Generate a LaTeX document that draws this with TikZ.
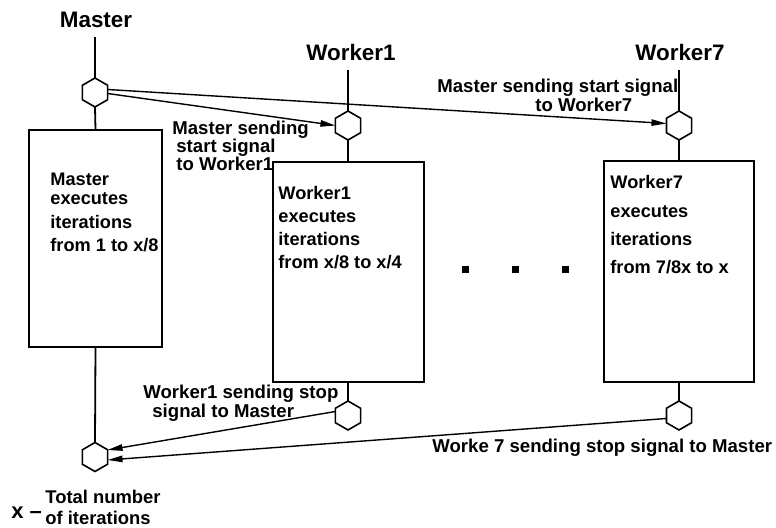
\documentclass[tikz,border=0pt]{standalone}
\usepackage{fontspec}
\setmainfont{Liberation Sans}
\usetikzlibrary{shapes.geometric,arrows.meta}

\tikzset{
  hexa/.style={draw, line width=0.8pt, regular polygon, regular polygon sides=6,
    shape border rotate=30, minimum size=14.5pt, inner sep=0pt, outer sep=0pt},
  runbox/.style={draw, line width=1pt, rectangle, inner sep=0pt, outer sep=0pt},
  title/.style={font=\fontsize{11.2}{13}\selectfont\bfseries, anchor=base, inner sep=0pt},
  lbl/.style={font=\fontsize{9.3}{9}\selectfont\bfseries, align=left, anchor=base west, inner sep=0pt},
  boxtext/.style={font=\fontsize{9.1}{10}\selectfont\bfseries, align=left, anchor=base west, inner sep=0pt},
  msg/.style={-{Triangle[length=7.5pt,width=3.2pt]}, line width=0.7pt},
  link/.style={line width=0.9pt},
  dot/.style={fill=black, minimum size=3.5pt, inner sep=0pt}
}

\begin{document}
\begin{tikzpicture}[x=0.5pt, y=-0.5pt]

    \useasboundingbox (0,0) rectangle (776,528);

    % titles
    \node[title] (mtitle) at (96,28) {Master};
    \node[title] (w1title) at (351,61) {Worker1};
    \node[title] (w7title) at (680,61) {Worker7};

    \coordinate (mtop) at (95,37);
    \coordinate (w1top) at (348,70);
    \coordinate (w7top) at (679,70);

    % hexagons
    \node[hexa] (mhexa) at (95,92.5) {};
    \node[hexa] (mhexb) at (95,457) {};
    \node[hexa] (w1hexa) at (348,125.5) {};
    \node[hexa] (w1hexb) at (348,415.5) {};
    \node[hexa] (w7hexa) at (679,125.5) {};
    \node[hexa] (w7hexb) at (679,415.5) {};

    % boxes
    \node[runbox, minimum width=66.5pt, minimum height=108.5pt] (mbox) at (95.5,238.5) {};
    \node[runbox, minimum width=75.5pt, minimum height=110pt] (w1box) at (348,272) {};
    \node[runbox, minimum width=75pt, minimum height=110.5pt] (w7box) at (679,271.5) {};

    % box texts (placed by the baseline of the last line)
    \node[boxtext] (mtext) at (50,252) {Master\\[-0.5pt]executes\\[2pt]iterations\\[1.5pt]from 1 to x/8};
    \node[boxtext, font=\fontsize{9.1}{11.5}\selectfont\bfseries] (w1text) at (278,269)
        {Worker1\\executes\\iterations\\from x/8 to x/4};
    \node[boxtext, font=\fontsize{9.1}{14.2}\selectfont\bfseries] (w7text) at (610,274)
        {Worker7\\executes\\iterations\\from 7/8x to x};

    % vertical lines
    \draw[link] (mtop) -- (mhexa.north);
    \draw[link] (mhexa.south) -- (mbox.north);
    \draw[link] (mbox.south) -- (mhexb.north);
    \draw[link] (w1top) -- (w1hexa.north);
    \draw[link] (w1hexa.south) -- (w1box.north);
    \draw[link] (w1box.south) -- (w1hexb.north);
    \draw[link] (w7top) -- (w7hexa.north);
    \draw[link] (w7hexa.south) -- (w7box.north);
    \draw[link] (w7box.south) -- (w7hexb.north);

    % start / stop signals
    \draw[msg] ([yshift=1.5pt]mhexa.east) -- ([yshift=1pt]w7hexa.west);
    \draw[msg] ([yshift=-0.5pt]mhexa.east) -- (w1hexa.west);
    \draw[msg] ([yshift=2pt]w1hexb.west) -- ([yshift=3.5pt]mhexb.east);
    \draw[msg] ([yshift=-1.5pt]w7hexb.west) -- ([yshift=-1.5pt]mhexb.east);

    \node[lbl] (start1) at (172,171) {Master sending\\\hspace{2pt}start signal\\\hspace{2pt}to Worker1};
    \node[lbl, font=\fontsize{9.3}{8.5}\selectfont\bfseries] (start7) at (437,112)
        {Master sending start signal\\\hspace{49pt}to Worker7};
    \node[lbl, font=\fontsize{9.3}{8.5}\selectfont\bfseries] (stop1) at (143,418)
        {Worker1 sending stop\\\hspace{4.5pt}signal to Master};
    \node[lbl] (stop7) at (432,453) {Worke 7 sending stop signal to Master};

    % the other workers
    \node[dot] (dot1) at (465,270) {};
    \node[dot] (dot2) at (515,270) {};
    \node[dot] (dot3) at (565,270) {};

    % legend
    \node[lbl, font=\fontsize{11}{11}\selectfont\bfseries] (xname) at (11,519) {x --};
    \node[lbl, font=\fontsize{9.2}{10}\selectfont\bfseries] (xtext) at (45,524) {Total number\\of iterations};

\end{tikzpicture}
\end{document}
